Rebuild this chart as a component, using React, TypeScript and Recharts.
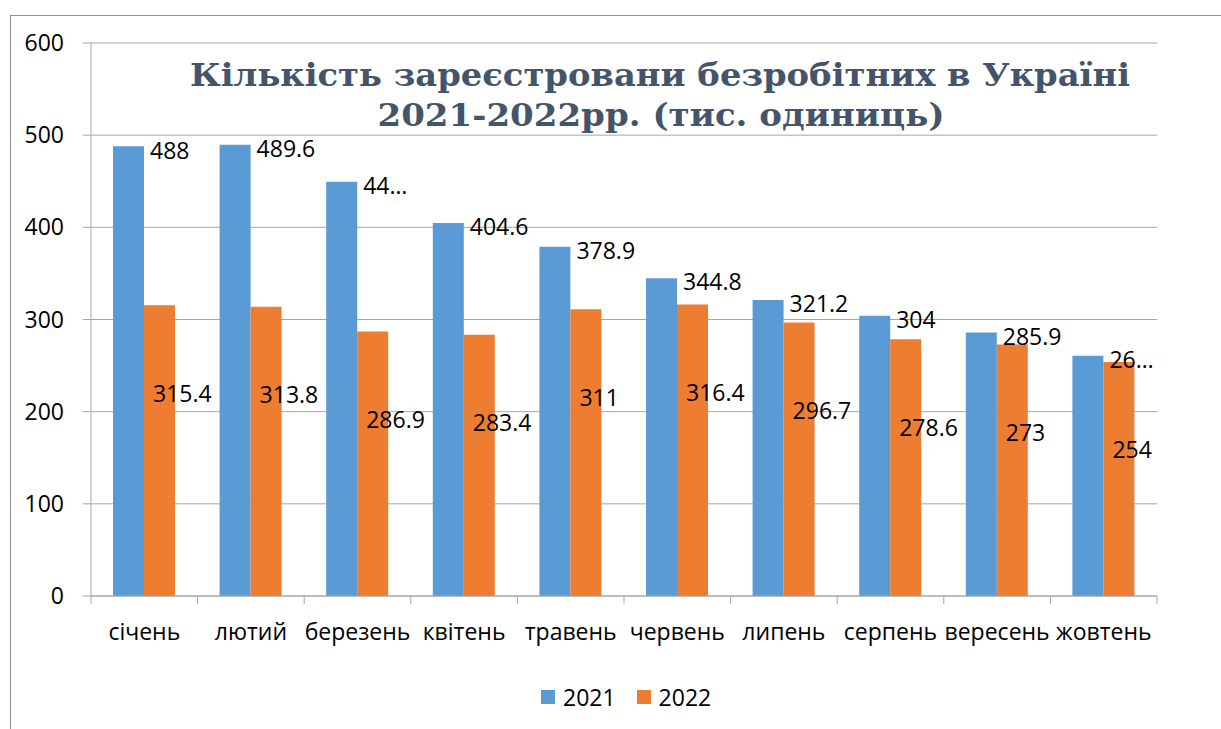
import React from 'react';
import { BarChart, Bar, XAxis, YAxis, CartesianGrid, Legend, LabelList } from 'recharts';

const months = ['січень', 'лютий', 'березень', 'квітень', 'травень', 'червень', 'липень', 'серпень', 'вересень', 'жовтень'];
const values2021 = [488, 489.6, 449.5, 404.6, 378.9, 344.8, 321.2, 304, 285.9, 260.6];
const values2022 = [315.4, 313.8, 286.9, 283.4, 311, 316.4, 296.7, 278.6, 273, 254];
const yTicks = [0, 100, 200, 300, 400, 500, 600];
const seriesNames = ['2021', '2022'];
const truncated2021 = [2, 9];
const titleLines = ['Кількість зареєстровани безробітних в Україні', '2021-2022рр. (тис. одиниць)'];

const data = months.map((m, i) => ({ month: m, y2021: values2021[i], y2022: values2022[i] }));

const W = 1221;
const H = 729;
const M = { top: 43, right: 64, left: 31, bottom: 73 };
const Y_W = 60;
const X_H = 60;
const PLOT_W = W - M.left - M.right - Y_W;
const FONT = "'Open Sans', 'Liberation Sans', sans-serif";
const TITLE_FONT = "'DejaVu Serif', 'Liberation Serif', serif";
const BLUE = '#5B9BD5';
const ORANGE = '#ED7D31';
const GRID = '#A6A6A6';
const FS = 23;

function XTick(props: any) {
  const { x, y, payload, index } = props;
  const half = PLOT_W / months.length / 2;
  const axisY = y - 8 - 20;
  return (
    <g>
      <line x1={x - half} x2={x - half} y1={axisY} y2={axisY + 8} stroke={GRID} />
      {index === months.length - 1 && (
        <line x1={x + half} x2={x + half} y1={axisY} y2={axisY + 8} stroke={GRID} />
      )}
      <text x={x} y={y} dy="0.71em" textAnchor="middle" fontSize={FS} fontFamily={FONT} fill="#000">
        {payload.value}
      </text>
    </g>
  );
}

function getBox(props: any) {
  const vb = props.viewBox && props.viewBox.x !== undefined ? props.viewBox : props;
  return { x: Number(vb.x), y: Number(vb.y), width: Number(vb.width), height: Number(vb.height) };
}

function Label2021(props: any) {
  const { x, y, width } = getBox(props);
  const { value, index } = props;
  const s = String(value);
  const text = truncated2021.includes(index) ? s.slice(0, 2) + '…' : s;
  return (
    <text x={x + width + 6} y={y + 4} dy="0.36em" fontSize={FS} fontFamily={FONT} fill="#000">
      {text}
    </text>
  );
}

function Label2022(props: any) {
  const { x, y } = getBox(props);
  const { value } = props;
  return (
    <text x={x + 9} y={y + 88} dy="0.36em" fontSize={FS} fontFamily={FONT} fill="#000">
      {String(value)}
    </text>
  );
}

function LegendContent() {
  const colors = [BLUE, ORANGE];
  return (
    <div style={{ display: 'flex', alignItems: 'center', height: 26, paddingLeft: 541 }}>
      {seriesNames.map((n, i) => (
        <div key={n} style={{ display: 'flex', alignItems: 'center', marginRight: 21 }}>
          <div style={{ width: 14, height: 14, background: colors[i], marginRight: 8 }} />
          <span style={{ fontFamily: FONT, fontSize: FS, color: '#000', lineHeight: '26px' }}>{n}</span>
        </div>
      ))}
    </div>
  );
}

export default function App() {
  return (
    <div style={{ position: 'absolute', left: 0, top: 0, width: W, height: H, overflow: 'hidden', background: '#fff' }}>
      <div
        style={{
          position: 'absolute',
          left: 10,
          top: 15,
          width: W + 20,
          height: H + 20,
          borderLeft: '1px solid #8f8f8f',
          borderTop: '1px solid #8f8f8f',
        }}
      />
      <div style={{ position: 'absolute', left: 0, top: 0 }}>
        <BarChart width={W} height={H} data={data} margin={M} barGap={0} barSize={31}>
          <CartesianGrid vertical={false} stroke={GRID} />
          <XAxis
            dataKey="month"
            height={X_H}
            tickSize={8}
            tickMargin={20}
            tickLine={false}
            axisLine={{ stroke: GRID }}
            tick={<XTick />}
            interval={0}
          />
          <YAxis
            width={Y_W}
            domain={[0, 600]}
            ticks={yTicks}
            interval={0}
            tickSize={8}
            tickMargin={19}
            tickLine={{ stroke: GRID }}
            axisLine={{ stroke: GRID }}
            tick={{ fontSize: FS, fontFamily: FONT, fill: '#000' }}
          />
          <Legend
            verticalAlign="middle"
            align="center"
            layout="horizontal"
            wrapperStyle={{ top: 684, left: 0, width: W, height: 26 }}
            content={<LegendContent />}
          />
          <Bar dataKey="y2021" name={seriesNames[0]} fill={BLUE} isAnimationActive={false}>
            <LabelList dataKey="y2021" content={<Label2021 />} />
          </Bar>
          <Bar dataKey="y2022" name={seriesNames[1]} fill={ORANGE} isAnimationActive={false}>
            <LabelList dataKey="y2022" content={<Label2022 />} />
          </Bar>
        </BarChart>
      </div>
      <svg width={W} height={H} style={{ position: 'absolute', left: 0, top: 0, pointerEvents: 'none' }}>
        <text
          x={660}
          y={86}
          textAnchor="middle"
          fontFamily={TITLE_FONT}
          fontWeight="bold"
          fontSize={31}
          fill="#44546A"
          textLength={940}
          lengthAdjust="spacingAndGlyphs"
        >
          {titleLines[0]}
        </text>
        <text
          x={661}
          y={126}
          textAnchor="middle"
          fontFamily={TITLE_FONT}
          fontWeight="bold"
          fontSize={31}
          fill="#44546A"
          textLength={567}
          lengthAdjust="spacingAndGlyphs"
        >
          {titleLines[1]}
        </text>
      </svg>
    </div>
  );
}
